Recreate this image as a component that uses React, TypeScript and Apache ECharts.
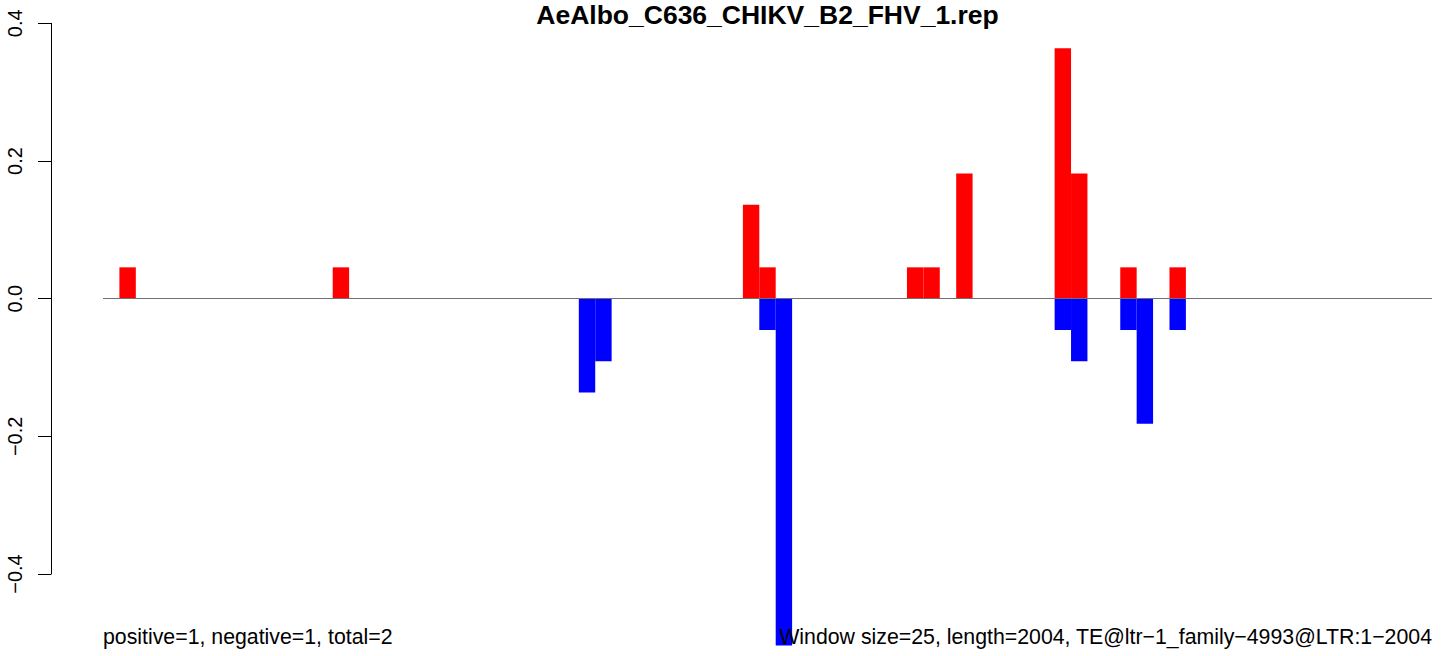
import React, { useEffect, useRef } from "react";
import * as echarts from "echarts";

const TITLE = "AeAlbo_C636_CHIKV_B2_FHV_1.rep";
const LEFT_NOTE = "positive=1, negative=1, total=2";
const RIGHT_NOTE = "Window size=25, length=2004, TE@ltr\u22121_family\u22124993@LTR:1\u22122004";

// 81 windows of 25 bp over a length of 2004
const windowStarts: string[] = Array.from({ length: 81 }, (_, i) => String(i * 25 + 1));

const positiveValues: number[] = [
  0, 0.0455, 0, 0, 0, 0, 0, 0, 0, 0,
  0, 0, 0, 0, 0.0455, 0, 0, 0, 0, 0,
  0, 0, 0, 0, 0, 0, 0, 0, 0, 0,
  0, 0, 0, 0, 0, 0, 0, 0, 0, 0.1364,
  0.0455, 0, 0, 0, 0, 0, 0, 0, 0, 0.0455,
  0.0455, 0, 0.1818, 0, 0, 0, 0, 0, 0.3636, 0.1818,
  0, 0, 0.0455, 0, 0, 0.0455, 0, 0, 0, 0,
  0, 0, 0, 0, 0, 0, 0, 0, 0, 0,
  0,
];

const negativeValues: number[] = [
  0, 0, 0, 0, 0, 0, 0, 0, 0, 0,
  0, 0, 0, 0, 0, 0, 0, 0, 0, 0,
  0, 0, 0, 0, 0, 0, 0, 0, 0, -0.1364,
  -0.0909, 0, 0, 0, 0, 0, 0, 0, 0, 0,
  -0.0455, -0.504, 0, 0, 0, 0, 0, 0, 0, 0,
  0, 0, 0, 0, 0, 0, 0, 0, -0.0455, -0.0909,
  0, 0, -0.0455, -0.1818, 0, -0.0455, 0, 0, 0, 0,
  0, 0, 0, 0, 0, 0, 0, 0, 0, 0,
  0,
];

const yTickMin = -0.4;
const yTickMax = 0.4;
const yTickStep = 0.2;
const yDataMin = -0.51;

const FONT = "'Liberation Sans', Arial, Helvetica, sans-serif";

export default function App() {
  const ref = useRef<HTMLDivElement>(null);

  useEffect(() => {
    if (!ref.current) return;
    const chart = echarts.init(ref.current, undefined, { renderer: "svg" });
    const pxPerUnit = 688.4;
    const top = 23.3;
    chart.setOption({
      animation: false,
      backgroundColor: "#ffffff",
      grid: [
        { left: 103, right: 12, top: top, height: (yTickMax - yDataMin) * pxPerUnit },
        { left: 51, right: 12, top: top, height: (yTickMax - yTickMin) * pxPerUnit },
      ],
      xAxis: [
        { type: "category", gridIndex: 0, data: windowStarts, show: false, boundaryGap: true },
        { type: "value", gridIndex: 1, show: false },
      ],
      yAxis: [
        { type: "value", gridIndex: 0, min: yDataMin, max: yTickMax, show: false },
        {
          type: "value",
          gridIndex: 1,
          min: yTickMin,
          max: yTickMax,
          interval: yTickStep,
          axisLine: { show: true, lineStyle: { color: "#000", width: 1 } },
          axisTick: { show: true, length: 13, lineStyle: { color: "#000", width: 1 } },
          splitLine: { show: false },
          axisLabel: {
            rotate: 90,
            margin: 26,
            color: "#000",
            fontSize: 20,
            fontFamily: FONT,
            formatter: (v: number) => (v < 0 ? "\u2212" + Math.abs(v).toFixed(1) : v.toFixed(1)),
          },
        },
      ],
      series: [
        {
          type: "bar",
          xAxisIndex: 0,
          yAxisIndex: 0,
          data: positiveValues,
          barWidth: "100%",
          barGap: "-100%",
          itemStyle: { color: "#ff0000" },
          silent: true,
        },
        {
          type: "bar",
          xAxisIndex: 0,
          yAxisIndex: 0,
          data: negativeValues,
          barWidth: "100%",
          barGap: "-100%",
          itemStyle: { color: "#0000ff" },
          silent: true,
          markLine: {
            silent: true,
            symbol: "none",
            label: { show: false },
            lineStyle: { color: "#707070", type: "solid", width: 1 },
            data: [{ yAxis: 0 }],
          },
        },
      ],
      graphic: [
        {
          type: "text",
          z: 100,
          x: 767.5,
          y: 14.8,
          style: {
            text: TITLE,
            fontSize: 26.5,
            fontWeight: "bold",
            fontFamily: FONT,
            fill: "#000",
            align: "center",
            verticalAlign: "middle",
          },
        },
        {
          type: "text",
          z: 100,
          x: 103,
          y: 637,
          style: {
            text: LEFT_NOTE,
            fontSize: 21.3,
            fontFamily: FONT,
            fill: "#000",
            align: "left",
            verticalAlign: "middle",
          },
        },
        {
          type: "text",
          z: 100,
          x: 1432,
          y: 637,
          style: {
            text: RIGHT_NOTE,
            fontSize: 21.3,
            fontFamily: FONT,
            fill: "#000",
            align: "right",
            verticalAlign: "middle",
          },
        },
      ],
    });
    return () => chart.dispose();
  }, []);

  return (
    <div
      ref={ref}
      style={{ position: "fixed", left: 0, top: 0, width: 1444, height: 656, background: "#fff" }}
    />
  );
}
